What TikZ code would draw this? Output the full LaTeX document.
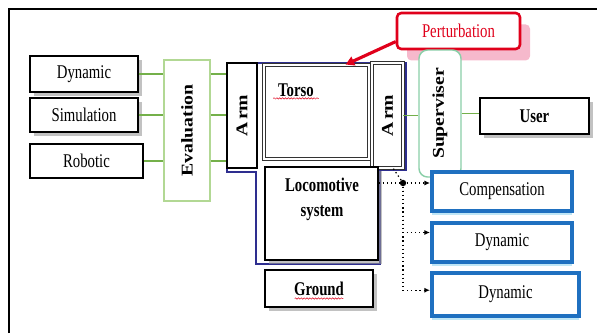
\documentclass[tikz,border=0pt]{standalone}
\usepackage{fontspec}
\setmainfont{Liberation Serif}[FakeStretch=0.76]
\newfontfamily\upfont{Liberation Serif}[FakeStretch=1.2]
\usetikzlibrary{arrows.meta,calc,shadows,decorations.pathmorphing}
\definecolor{leaf}{HTML}{74B04A}
\definecolor{leafbox}{HTML}{B2D894}
\definecolor{mint}{HTML}{8ACFA8}
\definecolor{navy}{HTML}{2E2E8F}
\definecolor{sea}{HTML}{1F70C0}
\definecolor{seashade}{HTML}{BFE6F6}
\definecolor{alarm}{HTML}{E0001B}
\definecolor{alarmshade}{HTML}{F6B9CC}
\tikzset{
  wh/.style 2 args={minimum width=#1*0.7pt,minimum height=#2*0.7pt},
  box/.style={draw=black,fill=white,line width=0.8pt,inner sep=0pt,
    font=\fontsize{13.6}{16}\selectfont},
  shadowbox/.style={box,drop shadow={shadow xshift=3pt,shadow yshift=-3pt,
    fill=gray!80,opacity=.6}},
  twinbox/.style={draw=black!80,double=white,double distance=1.3pt,line width=0.6pt},
  bar/.style={box,font=\upfont\fontsize{11.5}{14}\selectfont\bfseries},
  seabox/.style={box,draw=sea,line width=2.8pt,
    drop shadow={shadow xshift=0pt,shadow yshift=-3pt,fill=seashade,opacity=1}},
  link/.style={draw=leaf,line width=1pt},
  dotlink/.style={dotted,line width=0.9pt,-{Latex[length=4pt,width=3.6pt]}},
  push/.style={draw=alarm,line width=2.2pt,-{Triangle[length=6pt,width=6.5pt]}},
  squiggle/.style={draw=alarm,line width=0.35pt,decorate,
    decoration={snake,amplitude=0.5pt,segment length=2pt}},
}

\begin{document}
\begin{tikzpicture}[x=0.7pt,y=-0.7pt]
  \useasboundingbox (0,0) rectangle (597,333);
  \draw[line width=0.9pt] (9,333) -- (9,9) -- (597,9);

  % outline of the robot body
  \draw[navy,line width=1.1pt]
    (227,63) -- (406,63) -- (406,170) -- (380,170) -- (380,264)
    -- (256,264) -- (256,172) -- (227,172) -- cycle;

  \node[shadowbox,wh={108}{36}] (dynA) at (84,74) {Dynamic};
  \node[shadowbox,wh={108}{34}] (sim) at (84,115) {Simulation};
  \node[box,wh={113}{34}] (rob) at (86.5,161) {Robotic};

  \node[bar,draw=leafbox,wh={46}{141}] (eval) at (187,130.5) {\rotatebox{90}{Evaluation}};

  \node[bar,wh={30}{105}] (armL) at (242,115.5) {\rotatebox{90}{A\kern1.5pt rm}};
  \node[box,twinbox,wh={105}{94}] (torso) at (316.5,112) {};
  \node[font=\fontsize{13.6}{16}\selectfont\bfseries] (torsotxt) at (296,90) {Torso};
  \node[bar,twinbox,wh={31}{105}] (armR) at (387.5,115.5) {\rotatebox{90}{A\kern1.5pt rm}};

  \node[shadowbox,wh={113}{93}] (loco) at (321.5,213.5) {};
  \node[font=\fontsize{13.6}{17.5}\selectfont\bfseries,align=center] (locotxt)
    at (322,199) {Locomotive\\system};
  \node[shadowbox,wh={108}{37},font=\fontsize{13.6}{16}\selectfont\bfseries]
    (ground) at (319,288.5) {Ground};

  \node[box,draw=alarm,line width=1.8pt,rounded corners=3pt,text=alarm,wh={123}{36},
    drop shadow={shadow xshift=7pt,shadow yshift=-8pt,fill=alarmshade,opacity=1}]
    (pert) at (458.5,31) {Perturbation};
  \node[bar,draw=mint,line width=1pt,rounded corners=6pt,wh={42}{127}]
    (sup) at (440,113.5) {\rotatebox{90}{Superviser}};
  \node[shadowbox,wh={109}{36},font=\fontsize{13.6}{16}\selectfont\bfseries]
    (user) at (534.5,116) {User};

  \node[seabox,wh={140}{39}] (comp) at (502,191.5) {Compensation};
  \node[seabox,wh={140}{39}] (dynB) at (502,242.5) {Dynamic};
  \node[seabox,wh={147}{43}] (dynC) at (505.5,294.5) {Dynamic};

  % spelling marks
  \draw[squiggle] ([yshift=-1.5pt]torsotxt.base west) -- ([yshift=-1.5pt]torsotxt.base east);
  \draw[squiggle] ([xshift=-17pt,yshift=-7pt]ground.center) -- ([xshift=17pt,yshift=-7pt]ground.center);

  \foreach \src in {dynA,sim,rob} {
    \draw[link] (\src.east) -- (\src.east -| eval.west);
    \draw[link] (eval.east |- \src) -- (armL.west |- \src);
  }
  \draw[link] (armR.east) -- (armR.east -| sup.west);
  \draw[link] (sup.east) -- (sup.east -| user.west);

  \node[circle,fill=black,inner sep=0pt,minimum size=4.5pt] (jn) at (403,183) {};
  \draw[dotted,line width=0.9pt] (loco.east |- jn) -- (jn);
  \draw[dotted,line width=0.9pt] (jn) -- ([xshift=4pt]armR.south);
  \draw[dotlink] (jn) -- (jn -| comp.west);
  \draw[dotlink] (jn) |- ([yshift=7pt]dynB.west);
  \draw[dotlink] (jn) |- ([yshift=3pt]dynC.west);

  \draw[push] ($(pert.west)!0.55!(pert.south west)$) -- ($(torso.north)!0.55!(torso.north east)$);
\end{tikzpicture}
\end{document}
